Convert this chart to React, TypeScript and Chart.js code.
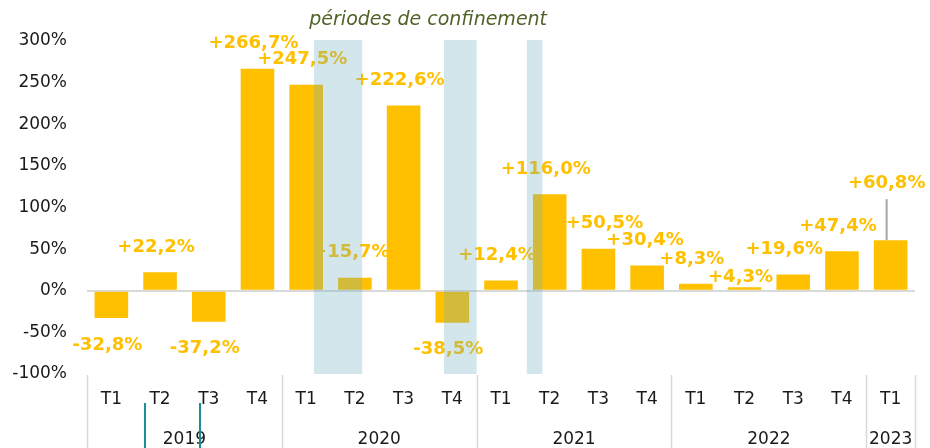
import React, { useEffect, useRef } from "react";
import { Chart, registerables } from "chart.js";

Chart.register(...registerables);

const quarters = ["T1", "T2", "T3", "T4", "T1", "T2", "T3", "T4", "T1", "T2", "T3", "T4", "T1", "T2", "T3", "T4", "T1"];
const years = ["2019", "2020", "2021", "2022", "2023"];
const quartersPerYear = [4, 4, 4, 4, 1];
const values = [-32.8, 22.2, -37.2, 266.7, 247.5, 15.7, 222.6, -38.5, 12.4, 116.0, 50.5, 30.4, 8.3, 4.3, 19.6, 47.4, 60.8];
const yTicks = [-100, -50, 0, 50, 100, 150, 200, 250, 300];
// lockdown periods, expressed in quarter units from the start of 2019 T1
const lockdownSpans: [number, number][] = [
  [4.66, 5.65],
  [7.33, 8.0],
  [9.03, 9.35],
];
const annotationText = "périodes de confinement";

const labelText = values.map((v) => (v > 0 ? "+" : "") + v.toFixed(1).replace(".", ",") + "%");

const FONT = '"DejaVu Sans", sans-serif';
const YELLOW = "#FFC000";
const GRID = "#d9d9d9";

const labelTweaks: Record<number, { dx?: number; dy?: number; leader?: boolean }> = {
  10: { dx: 6 },
  11: { dx: -2 },
  13: { dy: 10 },
  14: { dx: -9 },
  16: { dy: 57, leader: true },
};
const tealMarks = [1.19, 2.32];

const overlayPlugin = {
  id: "overlay",
  afterDatasetsDraw(chart: any) {
    const { ctx, chartArea, scales } = chart;
    const x = scales.x;
    const y = scales.y;
    const unit = x.getPixelForValue(1) - x.getPixelForValue(0);
    const edge = (u: number) => x.getPixelForValue(0) - unit / 2 + u * unit;
    const meta = chart.getDatasetMeta(0);
    ctx.save();
    // value labels
    ctx.font = `bold 18px ${FONT}`;
    ctx.textAlign = "center";
    ctx.textBaseline = "middle";
    meta.data.forEach((bar: any, i: number) => {
      const v = values[i];
      const t = labelTweaks[i] || {};
      const dx = t.dx ?? -4;
      const dy = t.dy ?? (v >= 0 ? 25 : 27);
      const ly = v >= 0 ? bar.y - dy : bar.y + dy;
      if (t.leader) {
        ctx.strokeStyle = "#a6a6a6";
        ctx.lineWidth = 2;
        ctx.beginPath();
        ctx.moveTo(bar.x - 4, bar.y);
        ctx.lineTo(bar.x - 4, ly + 16);
        ctx.stroke();
      }
      ctx.fillStyle = YELLOW;
      ctx.fillText(labelText[i], bar.x + dx, ly);
    });
    // lockdown shading
    ctx.fillStyle = "rgba(105,171,192,0.3)";
    const top = y.getPixelForValue(yTicks[yTicks.length - 1]) - 1;
    const bottom = y.getPixelForValue(yTicks[0]);
    lockdownSpans.forEach(([a, b]) => {
      ctx.fillRect(edge(a), top, edge(b) - edge(a), bottom - top);
    });
    // annotation
    const cx = (edge(lockdownSpans[0][0]) + edge(lockdownSpans[lockdownSpans.length - 1][1])) / 2;
    ctx.font = `italic 19px ${FONT}`;
    ctx.fillStyle = "#4F6228";
    ctx.fillText(annotationText, cx, chartArea.top - 21);

    // category axis
    const axTop = chartArea.bottom;
    const H = chart.height;
    ctx.font = `17px ${FONT}`;
    ctx.fillStyle = "#1a1a1a";
    quarters.forEach((q, i) => {
      ctx.fillText(q, x.getPixelForValue(i), axTop + 26);
    });
    let start = 0;
    ctx.strokeStyle = GRID;
    ctx.lineWidth = 1.5;
    const sep = (u: number) => {
      const px = Math.round(edge(u)) + 0.5;
      ctx.beginPath();
      ctx.moveTo(px, axTop + 1);
      ctx.lineTo(px, H);
      ctx.stroke();
    };
    years.forEach((yr, k) => {
      const n = quartersPerYear[k];
      sep(start);
      ctx.fillStyle = "#1a1a1a";
      ctx.fillText(yr, edge(start + n / 2), axTop + 66);
      start += n;
    });
    sep(start);
    // teal marks
    ctx.strokeStyle = "#1b8a9c";
    ctx.lineWidth = 2;
    tealMarks.forEach((u) => {
      const px = edge(u);
      ctx.beginPath();
      ctx.moveTo(px, axTop + 29);
      ctx.lineTo(px, H);
      ctx.stroke();
    });
    ctx.restore();
  },
};

export default function App() {
  const ref = useRef<HTMLCanvasElement>(null);
  useEffect(() => {
    if (!ref.current) return;
    const chart = new Chart(ref.current, {
      type: "bar",
      data: {
        labels: quarters,
        datasets: [
          {
            data: values,
            backgroundColor: YELLOW,
            barPercentage: 0.69,
            categoryPercentage: 1,
          },
        ],
      },
      options: {
        responsive: false,
        animation: false,
        layout: { padding: { top: 41, bottom: 74, right: 15, left: 0 } },
        plugins: { legend: { display: false }, tooltip: { enabled: false } },
        scales: {
          x: { display: false },
          y: {
            min: -100,
            max: 300,
            afterFit: (s: any) => {
              s.width = 87;
            },
            border: { display: false },
            grid: {
              drawTicks: false,
              color: (c: any) => (c.tick && c.tick.value === 0 ? GRID : "rgba(0,0,0,0)"),
              lineWidth: 2,
            },
            ticks: {
              stepSize: 50,
              padding: 20,
              color: "#1a1a1a",
              font: { family: FONT, size: 17 },
              callback: (v: any) => v + "%",
            },
          },
        },
      },
      plugins: [overlayPlugin],
    });
    return () => chart.destroy();
  }, []);
  return (
    <div style={{ position: "absolute", left: 0, top: 0, width: 930, height: 448 }}>
      <canvas ref={ref} width={930} height={448} />
    </div>
  );
}
